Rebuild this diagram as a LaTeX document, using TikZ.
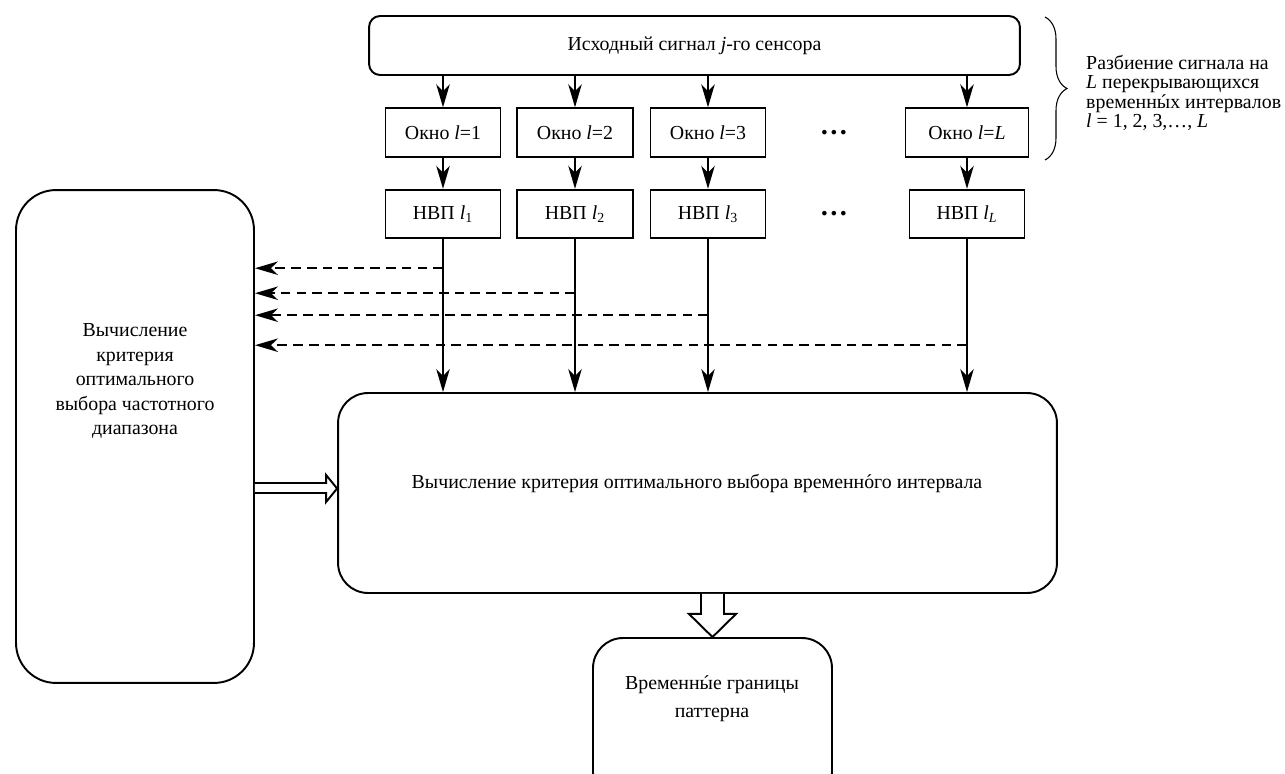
\documentclass[tikz,border=0pt]{standalone}
\usepackage{fontspec}
\setmainfont{Liberation Serif}
\usetikzlibrary{positioning, arrows.meta, calc, decorations.pathreplacing}
\newcommand{\udar}[1]{\ooalign{#1\cr\hidewidth\char"00B4\hidewidth\cr}}

\begin{document}
\begin{tikzpicture}[
    x=0.02cm, y=-0.02cm,
    font=\fontsize{11.3}{14}\selectfont,
    box/.style={draw, line width=1.1pt, minimum height=0.97cm, inner sep=0pt},
    rbox/.style={draw, line width=1.1pt, rounded corners=#1, inner sep=0pt},
    dots/.style={font=\fontsize{16}{16}\selectfont\bfseries},
    link/.style={line width=1pt, -{Stealth[length=0.46cm, width=0.27cm, inset=0.14cm]}},
    feed/.style={link, line width=1.1pt, dash pattern=on 5.5pt off 3.5pt},
    hollow/.style={draw, fill=white, line width=1.1pt, line join=miter}
]
    \useasboundingbox (0,0) rectangle (1285,774);

    % source signal
    \node[rbox=0.22cm, minimum width=13.02cm, minimum height=1.18cm] (src) at (694.5,45.5) {Исходный сигнал \textit{j}-го сенсора};

    % windows
    \node[box, minimum width=2.3cm] (w1) at (443,132.5) {Окно \textit{l}=1};
    \node[box, minimum width=2.32cm] (w2) at (575,132.5) {Окно \textit{l}=2};
    \node[box, minimum width=2.3cm] (w3) at (708,132.5) {Окно \textit{l}=3};
    \node[dots] (dw) at (834,133) {…};
    \node[box, minimum width=2.46cm] (wL) at (967,132.5) {Окно \textit{l}=\textit{L}};

    % wavelet transforms
    \node[box, minimum width=2.3cm] (n1) at (443,214) {НВП \textit{l}\textsubscript{1}};
    \node[box, minimum width=2.32cm] (n2) at (575,214) {НВП \textit{l}\textsubscript{2}};
    \node[box, minimum width=2.3cm] (n3) at (708,214) {НВП \textit{l}\textsubscript{3}};
    \node[dots] (dn) at (834,214) {…};
    \node[box, minimum width=2.3cm] (nL) at (967,214) {НВП \textit{l}\textsubscript{\textit{L}}};

    % brace with note
    \draw[line width=0.6pt, decorate, decoration={brace, amplitude=0.44cm}] (1045,17) -- (1045,160);
    \node[anchor=west, align=left, font=\fontsize{11.3}{11.1}\selectfont] (split) at (1080,93)
        {Разбиение сигнала на\\\textit{L} перекрывающихся\\временн\udar{ы}х интервалов\\\textit{l} = 1, 2, 3,…, \textit{L}};

    % frequency criterion
    \node[rbox=0.8cm, minimum width=4.76cm, minimum height=9.86cm] (freq) at (135,436.5) {};
    \node[align=center, font=\fontsize{11.3}{13.9}\selectfont] (freqtext) at (135,381)
        {Вычисление\\критерия\\оптимального\\выбора частотного\\диапазона};

    % time criterion
    \node[rbox=0.6cm, minimum width=14.38cm, minimum height=4cm] (crit) at (697.5,493) {};
    \node (crittext) at (697,484) {Вычисление критерия оптимального выбора временн\udar{о}го интервала};

    % result
    \node[rbox=0.6cm, minimum width=4.78cm, minimum height=3.3cm] (res) at (712.5,720.5) {};
    \node[align=center, font=\fontsize{11.3}{15.9}\selectfont] (restext) at (712,699)
        {Временн\udar{ы}е границы\\паттерна};

    % signal to windows to transforms
    \draw[link] (w1 |- src.south) -- (w1);
    \draw[link] (w2 |- src.south) -- (w2);
    \draw[link] (w3 |- src.south) -- (w3);
    \draw[link] (wL |- src.south) -- (wL);
    \draw[link] (w1) -- (n1);
    \draw[link] (w2) -- (n2);
    \draw[link] (w3) -- (n3);
    \draw[link] (wL) -- (nL);

    % transforms to time criterion
    \draw[link] (n1) -- (n1 |- crit.north);
    \draw[link] (n2) -- (n2 |- crit.north);
    \draw[link] (n3) -- (n3 |- crit.north);
    \draw[link] (nL) -- (nL |- crit.north);

    % feedback to frequency criterion
    \coordinate (f1) at ($(n1.south)+(0,29)$);
    \coordinate (f2) at ($(n2.south)+(0,54)$);
    \coordinate (f3) at ($(n3.south)+(0,76)$);
    \coordinate (f4) at ($(nL.south)+(0,106)$);
    \draw[feed] (f1) -- (f1 -| freq.east);
    \draw[feed] (f2) -- (f2 -| freq.east);
    \draw[feed] (f3) -- (f3 -| freq.east);
    \draw[feed] (f4) -- (f4 -| freq.east);

    % hollow arrows
    \coordinate (ha) at (freq.east |- crit.west);
    \path[hollow] ($(ha)+(0,-10)$) -- ($(crit.west)+(-11,-10)$) -- ($(crit.west)+(-11,-18)$)
        -- ($(crit.west)+(0,-4.5)$) -- ($(crit.west)+(-11,9)$) -- ($(crit.west)+(-11,0)$) -- (ha);
    \coordinate (hb) at (res.north |- crit.south);
    \path[hollow] ($(hb)+(-11.5,0)$) -- ($(hb)+(-11.5,20)$) -- ($(hb)+(-23.5,20)$)
        -- (res.north) -- ($(hb)+(23.5,20)$) -- ($(hb)+(11.5,20)$) -- ($(hb)+(11.5,0)$);
\end{tikzpicture}
\end{document}
